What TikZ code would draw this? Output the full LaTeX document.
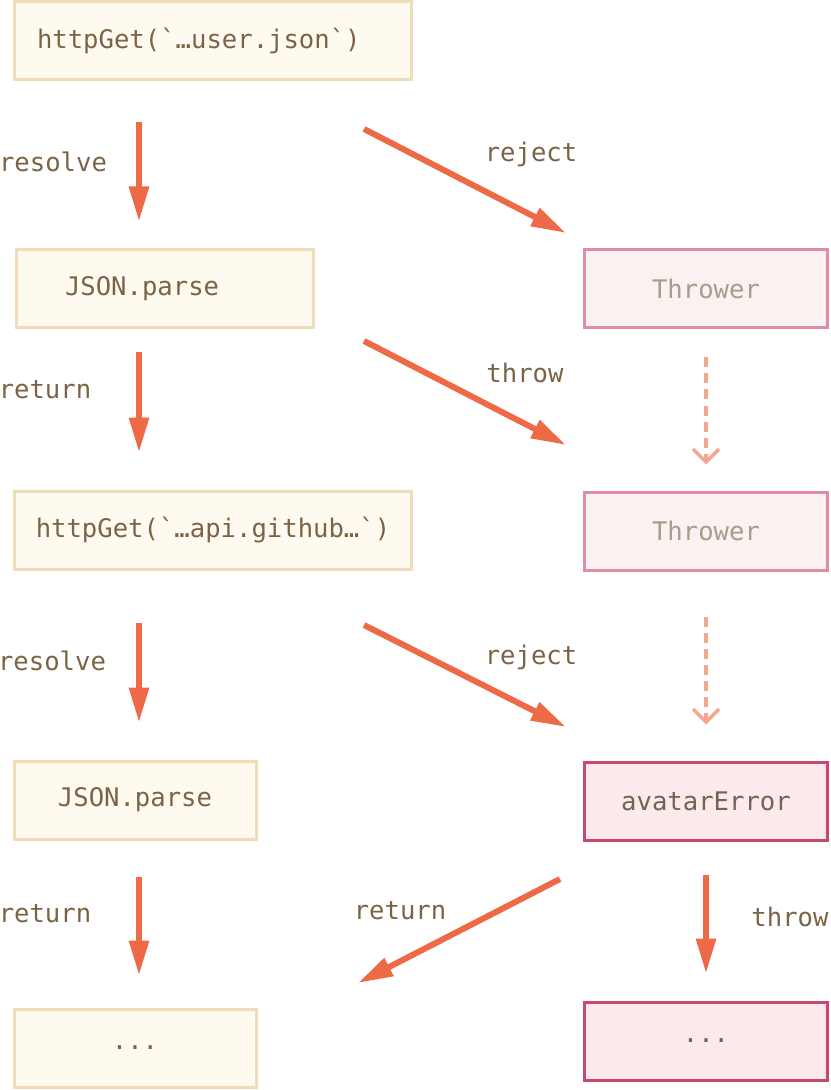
\documentclass[tikz,border=0pt]{standalone}
\usepackage{fontspec}
\setmonofont{DejaVu Sans Mono}
\usepackage{xcolor}
\usetikzlibrary{arrows.meta,positioning,calc}
\definecolor{creamfill}{HTML}{FFFAF0}
\definecolor{creamline}{HTML}{F0DCB8}
\definecolor{codebrown}{HTML}{7B6446}
\definecolor{pinkfill}{HTML}{FBF1F1}
\definecolor{pinkline}{HTML}{DE8DA5}
\definecolor{fadegray}{HTML}{A69D8B}
\definecolor{rosefill}{HTML}{FBE9EB}
\definecolor{roseline}{HTML}{C8496B}
\definecolor{rosetext}{HTML}{6B6752}
\definecolor{arrowred}{HTML}{EE6A47}
\definecolor{dashsalmon}{HTML}{F4A690}
\tikzset{
  codefont/.style={font=\ttfamily\fontsize{12.8pt}{15pt}\selectfont},
  stepbox/.style={codefont,draw=creamline,fill=creamfill,line width=1.5pt,
                  text=codebrown,minimum height=39pt,inner sep=2pt},
  throwbox/.style={codefont,draw=pinkline,fill=pinkfill,line width=1.5pt,
                   text=fadegray,minimum width=121.5pt,minimum height=39pt,inner sep=2pt},
  errbox/.style={codefont,draw=roseline,fill=rosefill,line width=1.5pt,
                 text=rosetext,minimum width=121.5pt,minimum height=39pt,inner sep=2pt},
  flowarr/.style={-{Triangle[length=17.5pt,width=9.5pt]},line width=3pt,draw=arrowred},
  fallarr/.style={-{Straight Barb[length=6.5pt,width=13pt]},line width=1.75pt,
                  draw=dashsalmon,dash pattern=on 5pt off 3pt},
  steplabel/.style={codefont,text=codebrown,inner sep=0pt}
}
\begin{document}
\begin{tikzpicture}[x=0.5pt,y=-0.5pt]
  \useasboundingbox (0,0) rectangle (830,1090);

  % left column: the chain of handlers
  \node[stepbox,minimum width=198.5pt,text width=176pt,align=left,inner xsep=11.25pt]
    (user) at (213,41) {httpGet(`…user.json`)};
  \node[stepbox,minimum width=148.5pt,text width=100pt,align=left,inner xsep=24.25pt]
    (parse1) at (165,289) {JSON.parse};
  \node[stepbox,minimum width=198.5pt] (github) at (213,530) {httpGet(`…api.github…`)};
  \node[stepbox,minimum width=121pt] (parse2) at (135,800) {JSON.parse};
  \node[stepbox,minimum width=121pt] (nextok) at (135,1048) {...};

  % right column: the error path
  \node[throwbox] (thrA) at (706,289) {Thrower};
  \node[throwbox] (thrB) at (706,531) {Thrower};
  \node[errbox] (avatar) at (706,801) {avatarError};
  \node[errbox] (nexterr) at (706,1041) {...};

  % arrow ends
  \coordinate (lx) at (139,0);
  \coordinate (rejA) at (364,129);  \coordinate (rejAend) at (566,233);
  \coordinate (thrS) at (364,341);  \coordinate (thrSend) at (566,445);
  \coordinate (rejB) at (364,625);  \coordinate (rejBend) at (566,727);
  \coordinate (back) at (560,879);  \coordinate (backend) at (358,983);

  % vertical steps
  \draw[flowarr,shorten <=41pt*0.5,shorten >=27pt*0.5] (user.south -| lx) -- (parse1.north -| lx);
  \draw[flowarr,shorten <=23pt*0.5,shorten >=37pt*0.5] (parse1.south -| lx) -- (github.north -| lx);
  \draw[flowarr,shorten <=52pt*0.5,shorten >=37pt*0.5] (github.south -| lx) -- (parse2.north -| lx);
  \draw[flowarr,shorten <=36pt*0.5,shorten >=32pt*0.5] (parse2.south -| lx) -- (nextok.north -| lx);
  \draw[flowarr,shorten <=33pt*0.5,shorten >=27pt*0.5] (avatar) -- (nexterr);

  % skipped handlers
  \draw[fallarr,shorten <=28pt*0.5,shorten >=26pt*0.5] (thrA) -- (thrB);
  \draw[fallarr,shorten <=45pt*0.5,shorten >=36pt*0.5] (thrB) -- (avatar);

  % diagonals
  \draw[flowarr] (rejA) -- (rejAend);
  \draw[flowarr] (thrS) -- (thrSend);
  \draw[flowarr] (rejB) -- (rejBend);
  \draw[flowarr] (back) -- (backend);

  % labels
  \node[steplabel] (lresA) at (53,162) {resolve};
  \node[steplabel] (lrejA) at (531,154) {reject};
  \node[steplabel] (lretA) at (45,390) {return};
  \node[steplabel] (lthrA) at (525,373) {throw};
  \node[steplabel] (lresB) at (52,661) {resolve};
  \node[steplabel] (lrejB) at (531,657) {reject};
  \node[steplabel] (lretB) at (45,914) {return};
  \node[steplabel] (lretC) at (400,911) {return};
  \node[steplabel] (lthrB) at (790,917) {throw};
\end{tikzpicture}
\end{document}
